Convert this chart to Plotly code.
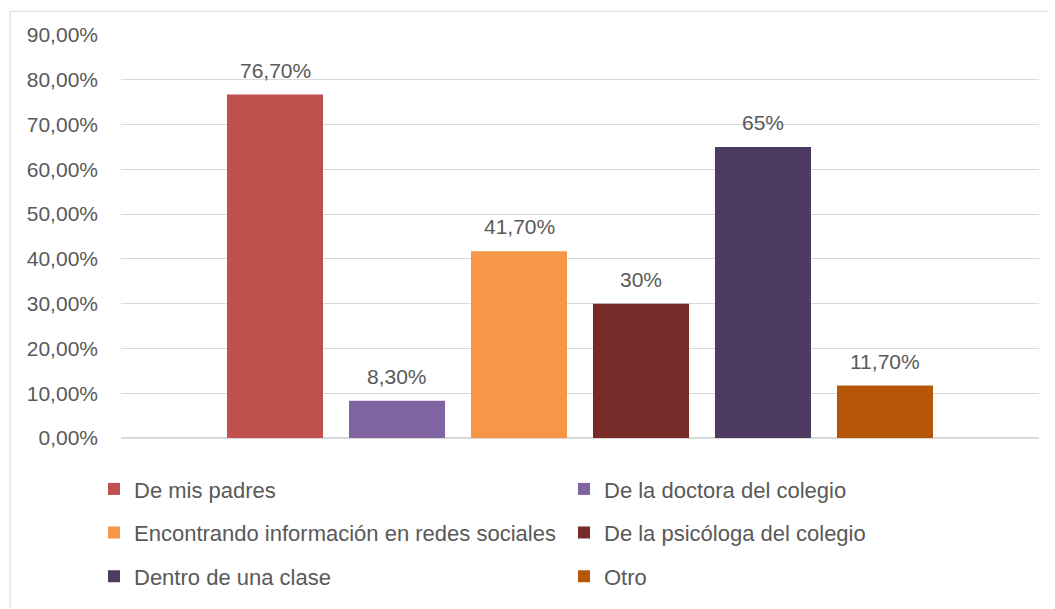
import plotly.graph_objects as go

categories = ["De mis padres", "De la doctora del colegio",
              "Encontrando información en redes sociales", "De la psicóloga del colegio",
              "Dentro de una clase", "Otro"]
values = [0.767, 0.083, 0.417, 0.30, 0.65, 0.117]
labels = ["76,70%", "8,30%", "41,70%", "30%", "65%", "11,70%"]
colors = ["#C0504D", "#8064A2", "#F79646", "#772C2A", "#4D3B62", "#B65708"]
legend_ids = ["legend", "legend", "legend2", "legend2", "legend3", "legend3"]

FONT = "Liberation Sans, Arial, sans-serif"
GRAY = "#595959"

fig = go.Figure()
for cat, val, col, lg in zip(categories, values, colors, legend_ids):
    fig.add_trace(go.Bar(x=[cat], y=[val], name=cat, marker_color=col,
                         marker_line_width=0, legend=lg, hoverinfo="skip"))

for cat, val, lab in zip(categories, values, labels):
    fig.add_annotation(x=cat, y=val, text=lab, showarrow=False, yanchor="bottom",
                       yshift=11, font=dict(family=FONT, size=21, color=GRAY))

# page has an 8px body margin; figure placed at (8, 8)
OFF = 8
W, H = 1055 - OFF, 609 - OFF
L, R, T, B = 121 - OFF, 16, 35 - OFF, 168
pw, ph = W - L - R, H - T - B

def px_x(p):  # screen px -> paper
    return (p - OFF - L) / pw

def px_y(p):
    return (H - B - (p - OFF)) / ph

legend_common = dict(orientation="h", entrywidth=425, entrywidthmode="pixels",
                     xanchor="left", yanchor="middle", x=px_x(94),
                     font=dict(family=FONT, size=22, color=GRAY),
                     bgcolor="rgba(0,0,0,0)", traceorder="normal")

fig.update_layout(
    width=W, height=H,
    margin=dict(l=L, r=R, t=T, b=B),
    paper_bgcolor="white", plot_bgcolor="white",
    barmode="overlay", bargap=0.213,
    separators=",.",
    font=dict(family=FONT, size=21, color=GRAY),
    showlegend=True,
    legend=dict(legend_common, y=px_y(492.5)),
    legend2=dict(legend_common, y=px_y(536.5)),
    legend3=dict(legend_common, y=px_y(580.5)),
    xaxis=dict(type="category", categoryorder="array", categoryarray=categories,
               range=[2.5 - pw / 122 / 2, 2.5 + pw / 122 / 2],
               showticklabels=False, showgrid=False, zeroline=False,
               showline=False, ticks=""),
    yaxis=dict(range=[0, 0.9], dtick=0.1, tickformat=".2%", showgrid=True,
               gridcolor="#D9D9D9", gridwidth=1, zeroline=True, zerolinecolor="#D9D9D9",
               zerolinewidth=1.5, showline=False, ticks="", ticklabelstandoff=22,
               tickfont=dict(family=FONT, size=21, color=GRAY)),
)

fig.add_shape(type="rect", xref="paper", yref="paper",
              x0=px_x(10), x1=px_x(1060), y0=px_y(614), y1=px_y(11),
              line=dict(color="#D9D9D9", width=1), fillcolor="rgba(0,0,0,0)", layer="below")

fig.write_html("out.html")
